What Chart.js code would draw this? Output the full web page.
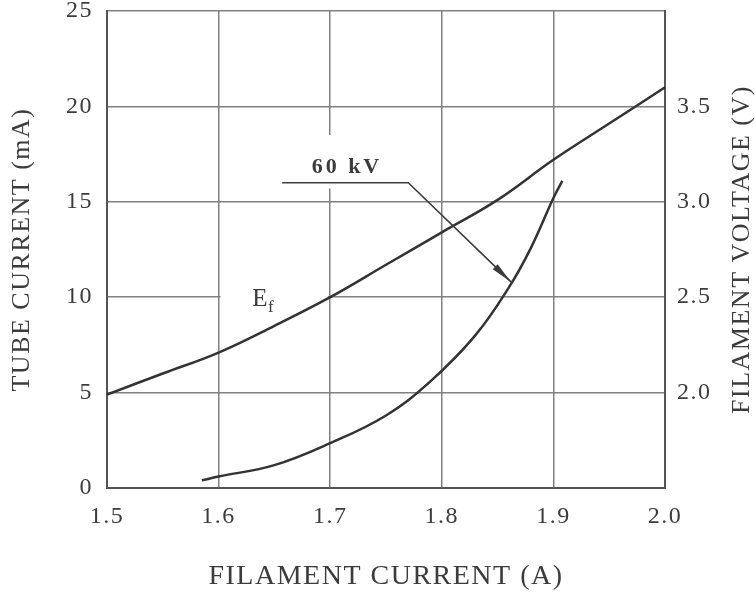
<!DOCTYPE html>
<html>
<head>
<meta charset="utf-8">
<script src="https://cdn.jsdelivr.net/npm/chart.js@4/dist/chart.umd.min.js"></script>
<style>
  html, body { margin: 0; padding: 0; background: #fff; }
  #chart { display: block; }
</style>
</head>
<body>
<canvas id="chart" width="755" height="593"></canvas>
<script>
// axis ticks
const filamentTicks = [1.5, 1.6, 1.7, 1.8, 1.9, 2.0];
const tubeCurrentTicks = [0, 5, 10, 15, 20, 25];
const voltageTicks = [2.0, 2.5, 3.0, 3.5];

// E_f curve: filament voltage (V) against filament current (A)
const efCurrent = [1.5, 1.55, 1.6, 1.65, 1.7, 1.75, 1.8, 1.85, 1.9, 1.95, 2.0];
const efVoltage = [1.99, 2.10, 2.21, 2.35, 2.50, 2.67, 2.84, 3.01, 3.22, 3.41, 3.60];

// 60 kV curve: tube current (mA) against filament current (A)
const kvCurrent = [1.585, 1.6, 1.65, 1.7, 1.75, 1.79, 1.83, 1.86, 1.88, 1.9, 1.908];
const kvTube = [0.4, 0.6, 1.2, 2.35, 3.8, 5.6, 8.0, 10.5, 12.6, 15.2, 16.1];

// labels drawn on the plot (data units: A, mA)
const kvLabelAt = [1.715, 16.8];
const kvLeader = [[1.657, 16.0], [1.770, 16.0], [1.862, 10.8]];
const efLabelAt = [1.637, 9.9];

// places where the printed grid is broken around the labels
const gridGaps = [
  { axis: 'x', at: 1.7, from: 15.7, to: 18.5 },
  { axis: 'y', at: 10, from: 1.6, to: 1.7 }
];

const serif = '"Liberation Serif", "DejaVu Serif", serif';
const ink = '#3c3c3c';
const gridInk = '#808080';

const sketchPlugin = {
  id: 'sketch',
  beforeDraw(chart) {
    chart.ctx.letterSpacing = '1.5px';
  },
  beforeDatasetsDraw(chart) {
    const { ctx, scales: { x, y } } = chart;
    ctx.save();
    ctx.fillStyle = '#fff';
    gridGaps.forEach(g => {
      if (g.axis === 'x') {
        const px = x.getPixelForValue(g.at);
        const top = y.getPixelForValue(g.to);
        const bottom = y.getPixelForValue(g.from);
        ctx.fillRect(px - 2, top, 4, bottom - top);
      } else {
        const py = y.getPixelForValue(g.at);
        const left = x.getPixelForValue(g.from) + 2;
        const right = x.getPixelForValue(g.to) - 2;
        ctx.fillRect(left, py - 2, right - left, 4);
      }
    });
    ctx.restore();
  },
  afterDatasetsDraw(chart) {
    const { ctx, scales: { x, y } } = chart;
    const px = p => [x.getPixelForValue(p[0]), y.getPixelForValue(p[1])];
    ctx.save();

    // leader line with arrow
    ctx.strokeStyle = ink;
    ctx.lineWidth = 1.6;
    ctx.beginPath();
    kvLeader.forEach((p, i) => {
      const [a, b] = px(p);
      if (i === 0) ctx.moveTo(a, b); else ctx.lineTo(a, b);
    });
    ctx.stroke();
    const [tx, ty] = px(kvLeader[kvLeader.length - 1]);
    const [qx, qy] = px(kvLeader[kvLeader.length - 2]);
    const len = Math.hypot(tx - qx, ty - qy);
    const ux = (tx - qx) / len, uy = (ty - qy) / len;
    ctx.fillStyle = ink;
    ctx.beginPath();
    ctx.moveTo(tx, ty);
    ctx.lineTo(tx - ux * 22 - uy * 3.5, ty - uy * 22 + ux * 3.5);
    ctx.lineTo(tx - ux * 22 + uy * 3.5, ty - uy * 22 - ux * 3.5);
    ctx.closePath();
    ctx.fill();

    // 60 kV text
    ctx.letterSpacing = '3px';
    ctx.font = 'bold 22px ' + serif;
    ctx.textAlign = 'center';
    ctx.textBaseline = 'middle';
    const [lx, ly] = px(kvLabelAt);
    ctx.fillText('60 kV', lx, ly);

    // E_f
    ctx.letterSpacing = '0px';
    const [ex, ey] = px(efLabelAt);
    ctx.font = '25px ' + serif;
    ctx.textAlign = 'center';
    ctx.fillText('E', ex, ey);
    ctx.font = '17px ' + serif;
    ctx.textAlign = 'left';
    ctx.fillText('f', ex + 8, ey + 8);
    ctx.restore();
  },
  afterDraw(chart) {
    const { ctx, chartArea } = chart;
    ctx.save();
    ctx.letterSpacing = '1.5px';
    ctx.translate(742, (chartArea.top + chartArea.bottom) / 2);
    ctx.rotate(-Math.PI / 2);
    ctx.font = '26px ' + serif;
    ctx.fillStyle = ink;
    ctx.textAlign = 'center';
    ctx.textBaseline = 'middle';
    ctx.fillText('FILAMENT VOLTAGE (V)', 0, 0);
    ctx.restore();
  }
};

const tickFont = { family: serif, size: 24 };
const noEdgePadding = s => {
  s.paddingTop = 0; s.paddingBottom = 0; s.paddingLeft = 0; s.paddingRight = 0;
};

new Chart(document.getElementById('chart'), {
  type: 'line',
  data: {
    datasets: [
      {
        label: 'Ef',
        data: efCurrent.map((c, i) => ({ x: c, y: efVoltage[i] })),
        yAxisID: 'y1',
        borderColor: '#333',
        borderWidth: 2.5,
        pointRadius: 0,
        tension: 0.4
      },
      {
        label: '60 kV',
        data: kvCurrent.map((c, i) => ({ x: c, y: kvTube[i] })),
        yAxisID: 'y',
        borderColor: '#333',
        borderWidth: 2.5,
        pointRadius: 0,
        tension: 0.4
      }
    ]
  },
  options: {
    responsive: false,
    animation: false,
    devicePixelRatio: 1,
    layout: { padding: { top: 11, left: 0, right: 0, bottom: 0 } },
    plugins: { legend: { display: false }, tooltip: { enabled: false } },
    scales: {
      x: {
        type: 'linear',
        min: 1.5,
        max: 2.0,
        afterBuildTicks: s => { s.ticks = filamentTicks.map(v => ({ value: v })); },
        afterFit: s => { s.height = 105; noEdgePadding(s); },
        ticks: { font: tickFont, color: ink, padding: 14, maxRotation: 0, callback: v => v.toFixed(1) },
        grid: { color: gridInk, lineWidth: 1.5, drawTicks: false },
        border: { color: '#555', width: 2 },
        title: {
          display: true,
          text: 'FILAMENT CURRENT (A)',
          font: { family: serif, size: 28 },
          color: ink,
          padding: { top: 0, bottom: 0 }
        }
      },
      y: {
        position: 'left',
        min: 0,
        max: 25,
        afterBuildTicks: s => { s.ticks = tubeCurrentTicks.map(v => ({ value: v })); },
        afterFit: s => { s.width = 107; noEdgePadding(s); },
        ticks: { font: tickFont, color: ink, padding: 14, callback: v => String(v) },
        grid: { color: gridInk, lineWidth: 1.5, drawTicks: false },
        border: { color: '#555', width: 2 },
        title: {
          display: true,
          text: 'TUBE CURRENT (mA)',
          font: { family: serif, size: 26 },
          color: ink,
          padding: { top: 7, bottom: 0 }
        }
      },
      y1: {
        position: 'right',
        min: 1.5,
        max: 4.0,
        afterBuildTicks: s => { s.ticks = voltageTicks.map(v => ({ value: v })); },
        afterFit: s => { s.width = 90; noEdgePadding(s); },
        ticks: { font: tickFont, color: ink, padding: 12, callback: v => v.toFixed(1) },
        grid: { display: false, drawTicks: false },
        border: { color: '#555', width: 2 }
      }
    }
  },
  plugins: [sketchPlugin]
});
</script>
</body>
</html>
